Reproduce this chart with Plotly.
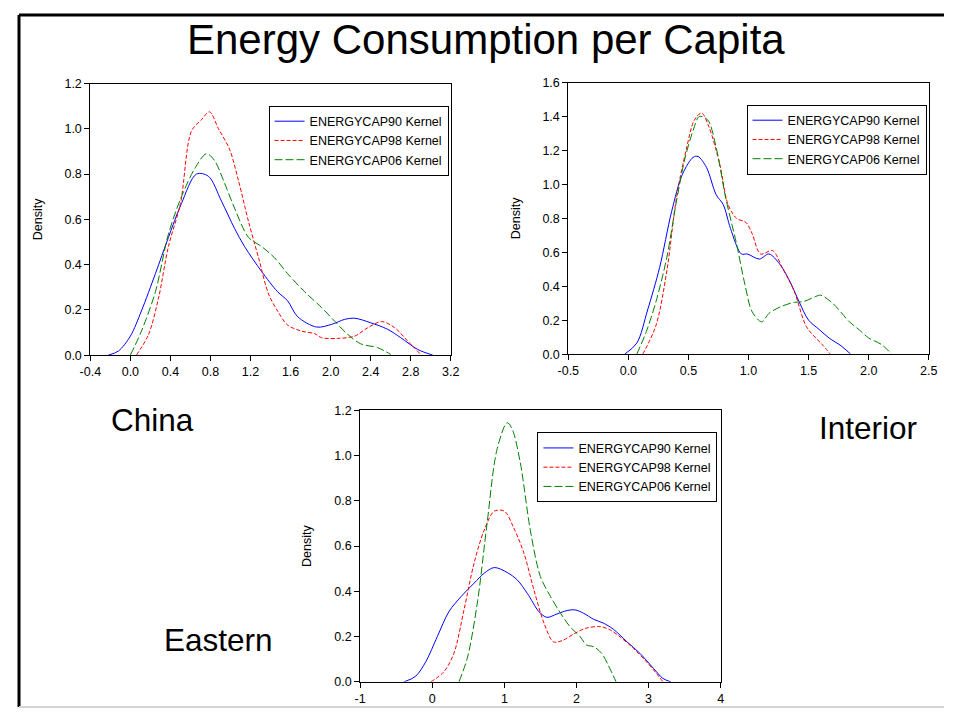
import plotly.graph_objects as go

# ---------------- data ----------------
# China
china_x90 = [-0.22, -0.12, 0.0, 0.11, 0.25, 0.38, 0.51, 0.66, 0.78, 0.91, 1.04, 1.14, 1.31, 1.47, 1.57, 1.67, 1.86, 2.01, 2.14, 2.24, 2.40, 2.57, 2.70, 2.87, 3.02]
china_y90 = [0.0, 0.018, 0.084, 0.195, 0.36, 0.52, 0.67, 0.80, 0.79, 0.68, 0.56, 0.48, 0.37, 0.28, 0.24, 0.17, 0.124, 0.136, 0.158, 0.163, 0.143, 0.114, 0.077, 0.025, 0.0]
china_x98 = [0.06, 0.18, 0.28, 0.38, 0.50, 0.61, 0.71, 0.79, 0.88, 0.99, 1.08, 1.18, 1.28, 1.38, 1.47, 1.57, 1.71, 1.84, 1.91, 2.07, 2.24, 2.37, 2.51, 2.64, 2.77, 2.90]
china_y98 = [0.0, 0.09, 0.25, 0.48, 0.67, 0.99, 1.04, 1.075, 1.0, 0.91, 0.77, 0.59, 0.43, 0.27, 0.195, 0.133, 0.106, 0.095, 0.077, 0.074, 0.084, 0.121, 0.148, 0.121, 0.062, 0.003]
china_x06 = [0.0, 0.11, 0.25, 0.38, 0.51, 0.65, 0.76, 0.84, 0.94, 1.04, 1.18, 1.31, 1.44, 1.57, 1.74, 1.91, 2.04, 2.17, 2.30, 2.47, 2.60]
china_y06 = [0.0, 0.106, 0.28, 0.535, 0.70, 0.83, 0.89, 0.86, 0.76, 0.65, 0.52, 0.48, 0.43, 0.36, 0.28, 0.21, 0.15, 0.092, 0.050, 0.033, 0.003]

# Interior
inter_x90 = [-0.03, 0.07, 0.16, 0.26, 0.36, 0.45, 0.54, 0.58, 0.65, 0.73, 0.79, 0.85, 0.94, 0.99, 1.09, 1.17, 1.26, 1.35, 1.42, 1.50, 1.59, 1.67, 1.77, 1.85]
inter_y90 = [0.0, 0.065, 0.26, 0.51, 0.84, 1.06, 1.16, 1.164, 1.10, 0.94, 0.88, 0.74, 0.59, 0.59, 0.56, 0.59, 0.53, 0.42, 0.31, 0.20, 0.144, 0.095, 0.049, 0.0]
inter_x98 = [0.12, 0.23, 0.32, 0.40, 0.48, 0.55, 0.61, 0.67, 0.76, 0.83, 0.90, 0.98, 1.03, 1.10, 1.20, 1.28, 1.38, 1.48, 1.56, 1.61, 1.68]
inter_y98 = [0.0, 0.17, 0.49, 0.92, 1.20, 1.38, 1.42, 1.34, 1.12, 0.88, 0.80, 0.775, 0.71, 0.59, 0.61, 0.51, 0.37, 0.164, 0.095, 0.059, 0.0]
inter_x06 = [0.07, 0.15, 0.23, 0.32, 0.40, 0.47, 0.54, 0.59, 0.66, 0.73, 0.81, 0.90, 0.97, 1.03, 1.11, 1.17, 1.27, 1.38, 1.46, 1.56, 1.60, 1.70, 1.84, 1.92, 2.00, 2.11, 2.19]
inter_y06 = [0.0, 0.134, 0.31, 0.57, 0.90, 1.15, 1.32, 1.40, 1.38, 1.22, 0.92, 0.65, 0.41, 0.25, 0.19, 0.24, 0.28, 0.305, 0.31, 0.34, 0.347, 0.30, 0.19, 0.144, 0.095, 0.055, 0.0]

# Eastern
east_x90 = [-0.39, -0.23, -0.09, 0.07, 0.23, 0.40, 0.58, 0.72, 0.86, 1.04, 1.18, 1.32, 1.48, 1.59, 1.73, 1.87, 1.98, 2.10, 2.24, 2.37, 2.51, 2.70, 2.88, 3.07, 3.20, 3.31]
east_y90 = [0.0, 0.025, 0.089, 0.20, 0.31, 0.377, 0.436, 0.48, 0.505, 0.483, 0.45, 0.39, 0.31, 0.285, 0.30, 0.315, 0.318, 0.303, 0.276, 0.26, 0.233, 0.177, 0.126, 0.059, 0.015, 0.0]
east_x98 = [-0.02, 0.16, 0.30, 0.44, 0.58, 0.72, 0.86, 1.00, 1.13, 1.27, 1.41, 1.55, 1.68, 1.80, 1.96, 2.12, 2.33, 2.47, 2.61, 2.79, 2.97, 3.11, 3.20]
east_y98 = [0.0, 0.044, 0.126, 0.318, 0.525, 0.67, 0.754, 0.754, 0.68, 0.57, 0.406, 0.259, 0.177, 0.182, 0.211, 0.236, 0.244, 0.229, 0.197, 0.148, 0.089, 0.037, 0.0]
east_x06 = [0.37, 0.49, 0.63, 0.76, 0.90, 1.04, 1.11, 1.22, 1.36, 1.50, 1.64, 1.78, 1.91, 2.05, 2.14, 2.24, 2.35, 2.44, 2.55]
east_y06 = [0.0, 0.11, 0.36, 0.70, 1.03, 1.145, 1.115, 0.97, 0.67, 0.465, 0.377, 0.303, 0.244, 0.20, 0.163, 0.155, 0.126, 0.074, 0.0]

series_names = ["ENERGYCAP90 Kernel", "ENERGYCAP98 Kernel", "ENERGYCAP06 Kernel"]

china_xticks = [-0.4, 0.0, 0.4, 0.8, 1.2, 1.6, 2.0, 2.4, 2.8, 3.2]
china_xtext = ["-0.4", "0.0", "0.4", "0.8", "1.2", "1.6", "2.0", "2.4", "2.8", "3.2"]
inter_xticks = [-0.5, 0.0, 0.5, 1.0, 1.5, 2.0, 2.5]
inter_xtext = ["-0.5", "0.0", "0.5", "1.0", "1.5", "2.0", "2.5"]
east_xticks = [-1, 0, 1, 2, 3, 4]
east_xtext = ["-1", "0", "1", "2", "3", "4"]
yticks_12 = [0.0, 0.2, 0.4, 0.6, 0.8, 1.0, 1.2]
yticks_16 = [0.0, 0.2, 0.4, 0.6, 0.8, 1.0, 1.2, 1.4, 1.6]

title_text = "Energy Consumption per Capita"
panel_labels = ["China", "Interior", "Eastern"]

# ---------------- figure ----------------
OFF = 8
W, H = 961 - 2 * OFF, 722 - 2 * OFF
FONT = "Liberation Sans, Arial, sans-serif"
styles = [
    dict(color="#0000ff", width=1, dash="solid"),
    dict(color="#ff0000", width=1, dash="4px,2px"),
    dict(color="#008000", width=1, dash="8px,3px"),
]

# screen position -> paper fraction (page is shown slightly reduced)
SX, OX = 0.983, 8.5
SY, OY = 0.978, 6.8

def px(x):
    return ((x - OX) / SX - OFF) / W

def py(y):
    return 1 - ((y - OY) / SY - OFF) / H

fig = go.Figure()

panels = [
    ("x", "y", "legend", [(china_x90, china_y90), (china_x98, china_y98), (china_x06, china_y06)]),
    ("x2", "y2", "legend2", [(inter_x90, inter_y90), (inter_x98, inter_y98), (inter_x06, inter_y06)]),
    ("x3", "y3", "legend3", [(east_x90, east_y90), (east_x98, east_y98), (east_x06, east_y06)]),
]
for xa, ya, lg, data in panels:
    for (xs, ys), name, st in zip(data, series_names, styles):
        fig.add_trace(go.Scatter(
            x=xs, y=ys, mode="lines", name=name, xaxis=xa, yaxis=ya, legend=lg,
            line=dict(color=st["color"], width=st["width"], dash=st["dash"],
                      shape="spline", smoothing=0.9),
            hoverinfo="skip",
        ))

axis_common = dict(showgrid=False, zeroline=False, showline=True, linecolor="black",
                   linewidth=1, mirror=True, ticks="outside", ticklen=5, tickwidth=1,
                   tickcolor="black", tickfont=dict(family=FONT, size=12.5, color="black"))

def xaxis(domain, rng, vals, text, anchor):
    return dict(domain=domain, range=rng, tickvals=vals, ticktext=text, anchor=anchor, **axis_common)

def yaxis(domain, rng, vals, anchor):
    return dict(domain=domain, range=rng, tickvals=vals, ticktext=[f"{v:.1f}" for v in vals],
                anchor=anchor,
                title=dict(text="Density", font=dict(family=FONT, size=12.5, color="black"), standoff=19),
                **axis_common)

legend_common = dict(bgcolor="white", bordercolor="black", borderwidth=1,
                     font=dict(family=FONT, size=12.5, color="black"),
                     xanchor="left", yanchor="top", itemwidth=30, tracegroupgap=0,
                     itemclick=False, itemdoubleclick=False)

fig.update_layout(
    width=W, height=H,
    margin=dict(l=0, r=0, t=0, b=0),
    paper_bgcolor="white", plot_bgcolor="white",
    font=dict(family=FONT, color="black"),
    xaxis=xaxis([px(88), px(450)], [-0.4, 3.2], china_xticks, china_xtext, "y"),
    yaxis=yaxis([py(354), py(83)], [0, 1.2], yticks_12, "x"),
    xaxis2=xaxis([px(568), px(930)], [-0.5, 2.5], inter_xticks, inter_xtext, "y2"),
    yaxis2=yaxis([py(353), py(82)], [0, 1.6], yticks_16, "x2"),
    xaxis3=xaxis([px(359), px(721)], [-1, 4], east_xticks, east_xtext, "y3"),
    yaxis3=yaxis([py(680), py(409)], [0, 1.2], yticks_12, "x3"),
    legend=dict(x=px(267), y=py(105), **legend_common),
    legend2=dict(x=px(747), y=py(104), **legend_common),
    legend3=dict(x=px(537), y=py(431), **legend_common),
    showlegend=True,
)

annotations = [
    dict(text=title_text, x=px(485.5), y=py(39.5), xref="paper", yref="paper",
         xanchor="center", yanchor="middle", showarrow=False,
         font=dict(family=FONT, size=42, color="black")),
    dict(text=panel_labels[0], x=px(150), y=py(419), xref="paper", yref="paper",
         xanchor="center", yanchor="middle", showarrow=False,
         font=dict(family=FONT, size=31.5, color="black")),
    dict(text=panel_labels[1], x=px(869), y=py(426.5), xref="paper", yref="paper",
         xanchor="center", yanchor="middle", showarrow=False,
         font=dict(family=FONT, size=31.5, color="black")),
    dict(text=panel_labels[2], x=px(216.5), y=py(638), xref="paper", yref="paper",
         xanchor="center", yanchor="middle", showarrow=False,
         font=dict(family=FONT, size=31.5, color="black")),
]
fig.update_layout(annotations=annotations)

shapes = [
    dict(type="line", xref="paper", yref="paper", x0=0, x1=1, y0=1, y1=1,
         line=dict(color="black", width=3)),
    dict(type="line", xref="paper", yref="paper", x0=0, x1=0, y0=1, y1=0,
         line=dict(color="black", width=3)),
    dict(type="line", xref="paper", yref="paper", x0=0, x1=1, y0=0, y1=0,
         line=dict(color="#d4d4d4", width=2)),
]
fig.update_layout(shapes=shapes)

fig.write_html("out.html", config={"displayModeBar": False})
